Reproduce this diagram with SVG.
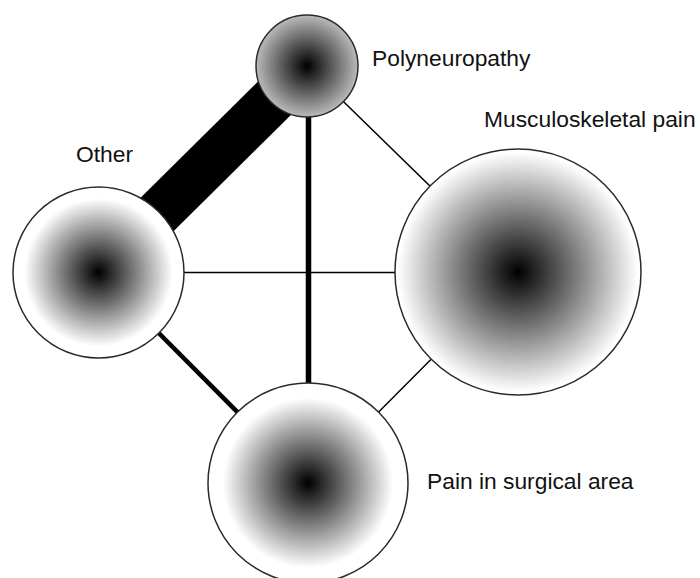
<svg xmlns="http://www.w3.org/2000/svg" width="700" height="578" viewBox="0 0 700 578">
<style>
.node{stroke:#2a2a2a;stroke-width:1.5}
.lbl{font-family:"Liberation Sans",Arial,sans-serif;font-size:22.8px;fill:#111}
.edge{stroke:#000;stroke-linecap:butt;fill:none}
</style>
<defs>
<radialGradient id="gPoly" gradientUnits="userSpaceOnUse" cx="307" cy="66" r="70">
<stop offset="0" stop-color="#000"/><stop offset="1" stop-color="#fff"/>
</radialGradient>
<radialGradient id="gOther" gradientUnits="userSpaceOnUse" cx="98.5" cy="272.5" r="74">
<stop offset="0" stop-color="#000"/><stop offset="1" stop-color="#fff"/>
</radialGradient>
<radialGradient id="gMusc" gradientUnits="userSpaceOnUse" cx="518" cy="272" r="120">
<stop offset="0" stop-color="#000"/><stop offset="1" stop-color="#fff"/>
</radialGradient>
<radialGradient id="gSurg" gradientUnits="userSpaceOnUse" cx="308" cy="483" r="85">
<stop offset="0" stop-color="#000"/><stop offset="1" stop-color="#fff"/>
</radialGradient>
</defs>
<rect width="700" height="578" fill="#fff"/>
<g id="connectors">
<line class="edge" x1="98.5" y1="272.5" x2="307" y2="66" stroke-width="47"/>
<line class="edge" x1="308.5" y1="66" x2="308.5" y2="483" stroke-width="5.5"/>
<line class="edge" x1="98.5" y1="272.5" x2="308" y2="483" stroke-width="4.5"/>
<line class="edge" x1="307" y1="66" x2="518" y2="272" stroke-width="1.5"/>
<line class="edge" x1="98.5" y1="272.5" x2="518" y2="272.5" stroke-width="1.5"/>
<line class="edge" x1="308" y1="483" x2="518" y2="272" stroke-width="1.5"/>
</g>
<g id="node-polyneuropathy">
<circle class="node" cx="307" cy="66" r="51" fill="url(#gPoly)"/>
<text class="lbl" x="372" y="66">Polyneuropathy</text>
</g>
<g id="node-other">
<circle class="node" cx="98.5" cy="272.5" r="85.5" fill="url(#gOther)"/>
<text class="lbl" x="76" y="162">Other</text>
</g>
<g id="node-musculoskeletal">
<circle class="node" cx="518" cy="272" r="123" fill="url(#gMusc)"/>
<text class="lbl" x="484" y="127">Musculoskeletal pain</text>
</g>
<g id="node-surgical">
<circle class="node" cx="308" cy="483" r="100" fill="url(#gSurg)"/>
<text class="lbl" x="427" y="489">Pain in surgical area</text>
</g>
</svg>
